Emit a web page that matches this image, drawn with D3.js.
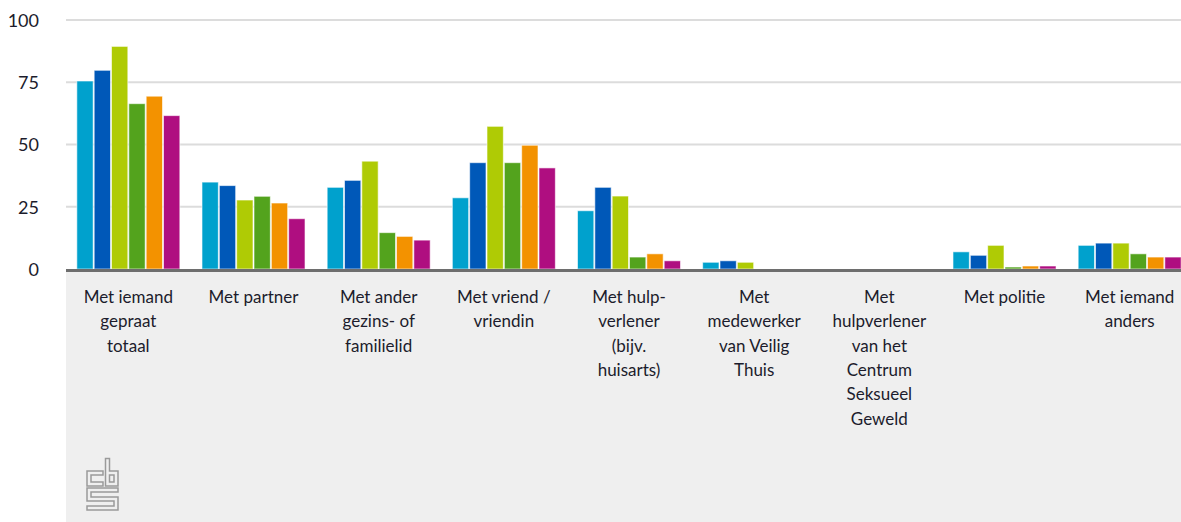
<!DOCTYPE html>
<html>
<head>
<meta charset="utf-8">
<script src="https://cdn.jsdelivr.net/npm/d3@7/dist/d3.min.js"></script>
<style>
  html, body { margin: 0; padding: 0; background: #ffffff; }
  svg { display: block; }
  text { font-family: Lato, "Noto Sans", sans-serif; fill: #1c1c2c; }
</style>
</head>
<body>
<svg id="chart" width="1181" height="522"></svg>
<script>
// Categories (axis labels, wrapped per line)
const categories = [
  "Met iemand gepraat totaal",
  "Met partner",
  "Met ander gezins- of familielid",
  "Met vriend / vriendin",
  "Met hulpverlener (bijv. huisarts)",
  "Met medewerker van Veilig Thuis",
  "Met hulpverlener van het Centrum Seksueel Geweld",
  "Met politie",
  "Met iemand anders"
];
const categoryLines = [
  ["Met iemand", "gepraat", "totaal"],
  ["Met partner"],
  ["Met ander", "gezins- of", "familielid"],
  ["Met vriend /", "vriendin"],
  ["Met hulp-", "verlener", "(bijv.", "huisarts)"],
  ["Met", "medewerker", "van Veilig", "Thuis"],
  ["Met", "hulpverlener", "van het", "Centrum", "Seksueel", "Geweld"],
  ["Met politie"],
  ["Met iemand", "anders"]
];

// Series values (%), null = no figure shown
const series = ["reeks 1", "reeks 2", "reeks 3", "reeks 4", "reeks 5", "reeks 6"];
const values1 = [75.5, 34.9, 32.8, 28.6, 23.4, 2.7, null, 6.9, 9.5];
const values2 = [79.8, 33.5, 35.6, 42.7, 32.8, 3.3, null, 5.5, 10.4];
const values3 = [89.4, 27.7, 43.3, 57.3, 29.3, 2.7, null, 9.5, 10.4];
const values4 = [66.4, 29.2, 14.6, 42.7, 4.8, null, null, 0.8, 6.1];
const values5 = [69.4, 26.5, 13.1, 49.7, 6.1, null, null, 1.2, 4.8];
const values6 = [61.6, 20.2, 11.6, 40.6, 3.3, null, null, 1.2, 4.8];
const yTicks = [0, 25, 50, 75, 100];

const seriesValues = [values1, values2, values3, values4, values5, values6];
const colors = ["#00a1cd", "#0058b8", "#afcb05", "#53a31d", "#f39200", "#af0e80"];

// Layout
const W = 1181, H = 522;
const plotLeft = 66, plotRight = 1192;
const svg = d3.select("#chart");

const x0 = d3.scaleBand()
  .domain(categories)
  .range([plotLeft, plotRight])
  .paddingInner(0.169)
  .paddingOuter(0.0825);

const x1 = d3.scaleBand()
  .domain(series)
  .range([0, x0.bandwidth()])
  .padding(0);

const y = d3.scaleLinear().domain([0, 100]).range([269, 20]);

// Light grey band below the axis
svg.append("rect")
  .attr("x", plotLeft).attr("y", 271)
  .attr("width", W - plotLeft).attr("height", H - 271)
  .attr("fill", "#efefef");

// Gridlines
svg.append("g")
  .selectAll("line")
  .data(yTicks.filter(d => d > 0))
  .join("line")
  .attr("x1", plotLeft).attr("x2", W)
  .attr("y1", d => y(d)).attr("y2", d => y(d))
  .attr("stroke", "#dcdcdc")
  .attr("stroke-width", 2);

// Y axis labels
const yAxis = d3.axisLeft(y).tickValues(yTicks).tickSize(0).tickPadding(0);
const gy = svg.append("g").attr("transform", "translate(39,0)").call(yAxis);
gy.select(".domain").remove();
gy.selectAll("text")
  .attr("font-size", 18)
  .attr("font-family", "Lato, 'Noto Sans', sans-serif")
  .attr("fill", "#1c1c2c")
  .attr("dy", "0.36em");

// Bars
const bars = [];
categories.forEach((c, ci) => {
  seriesValues.forEach((vals, si) => {
    const v = vals[ci];
    if (v !== null && v !== undefined) bars.push({ c, s: series[si], v, color: colors[si] });
  });
});

svg.append("g")
  .selectAll("rect")
  .data(bars)
  .join("rect")
  .attr("x", d => x0(d.c) + x1(d.s) + 0.5)
  .attr("y", d => y(d.v))
  .attr("width", x1.bandwidth() - 1)
  .attr("height", d => y(0) - y(d.v))
  .attr("fill", d => d.color)
  .attr("stroke", "rgba(255,255,255,0.6)")
  .attr("stroke-width", 1);

// Axis baseline
svg.append("line")
  .attr("x1", plotLeft).attr("x2", W)
  .attr("y1", y(0) + 1.5).attr("y2", y(0) + 1.5)
  .attr("stroke", "#6e6e6e")
  .attr("stroke-width", 3);

// Category labels, centred under each group
const lineH = 24.3;
const labels = svg.append("g")
  .selectAll("text")
  .data(categories)
  .join("text")
  .attr("text-anchor", "middle")
  .attr("font-size", 17)
  .attr("x", d => x0(d) + x0.bandwidth() / 2)
  .attr("y", 303);
labels.each(function (d, i) {
  const t = d3.select(this);
  const cx = x0(d) + x0.bandwidth() / 2;
  categoryLines[i].forEach((ln, li) => {
    t.append("tspan")
      .attr("x", cx)
      .attr("dy", li === 0 ? 0 : lineH)
      .text(ln);
  });
});

// cbs logo, drawn as an outlined path
const logo = svg.append("g").attr("transform", "translate(86,459)");
const logoPath = "M15,14 H3 V25 H15 M21.5,1.5 V25 H30 V14 H21.5 M30,31 H3 V40 H30 V49 H3";
logo.append("path").attr("d", logoPath)
  .attr("fill", "none").attr("stroke", "#9a9a9a").attr("stroke-width", 5.5)
  .attr("stroke-linejoin", "miter").attr("stroke-linecap", "square");
logo.append("path").attr("d", logoPath)
  .attr("fill", "none").attr("stroke", "#efefef").attr("stroke-width", 2.5)
  .attr("stroke-linejoin", "miter").attr("stroke-linecap", "square");
</script>
</body>
</html>
